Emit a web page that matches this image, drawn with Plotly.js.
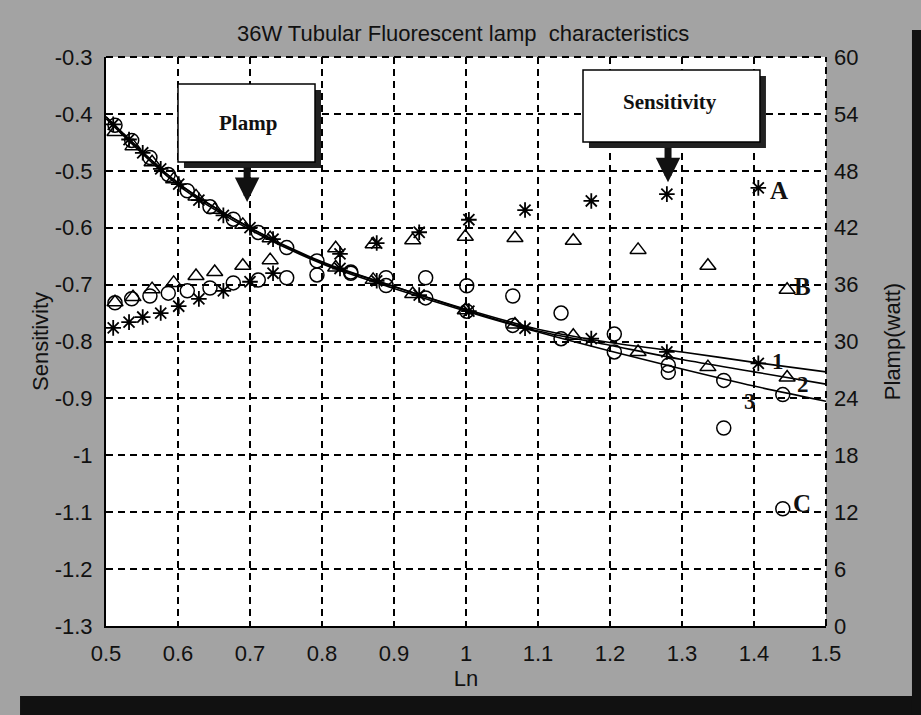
<!DOCTYPE html>
<html>
<head>
<meta charset="utf-8">
<script src="https://cdn.plot.ly/plotly-3.0.1.min.js"></script>
<style>html,body{margin:0;padding:0;background:#a3a3a3;}#chart{width:921px;height:715px;}</style>
</head>
<body>
<div id="chart"></div>
<script>
// ---- Sensitivity data (left axis) ----
const lnA = [0.510,0.532,0.551,0.576,0.601,0.629,0.663,0.700,0.732,0.825,0.876,0.935,1.004,1.082,1.174,1.279,1.406];
const sensA = [-0.776,-0.766,-0.757,-0.750,-0.738,-0.725,-0.711,-0.695,-0.680,-0.646,-0.627,-0.608,-0.586,-0.569,-0.553,-0.541,-0.530];

const lnB = [0.5125,0.5375,0.564,0.594,0.625,0.651,0.690,0.728,0.819,0.871,0.926,0.999,1.068,1.149,1.239,1.336,1.446];
const sensB = [-0.731,-0.722,-0.708,-0.697,-0.685,-0.678,-0.667,-0.657,-0.636,-0.629,-0.622,-0.616,-0.618,-0.623,-0.639,-0.667,-0.709];

const lnC = [0.5125,0.5357,0.561,0.5865,0.6129,0.6444,0.6768,0.7115,0.751,0.793,0.840,0.889,0.944,1.001,1.065,1.132,1.206,1.281,1.358,1.440];
const sensC = [-0.732,-0.725,-0.720,-0.715,-0.711,-0.706,-0.697,-0.692,-0.688,-0.683,-0.678,-0.688,-0.688,-0.702,-0.720,-0.750,-0.787,-0.854,-0.952,-1.094];

// ---- Plamp data (right axis, watt) ----
const plamp1 = [52.9,51.3,49.9,48.2,46.6,44.9,43.3,42.0,40.8,37.7,36.4,34.9,33.2,31.4,30.3,28.9,27.7];
const plamp2 = [52.1,50.6,48.9,47.1,45.3,43.9,42.3,40.9,37.8,36.5,35.0,33.3,31.8,30.6,28.9,27.3,26.2];
const plamp3 = [52.8,51.2,49.4,47.6,45.9,44.2,42.9,41.5,39.9,38.5,37.2,35.9,34.6,33.2,31.7,30.3,28.9,27.5,25.9,24.4];

// fitted Plamp curves 1,2,3
const lnFit = [0.5,0.6,0.7,0.8,0.9,1.0,1.1,1.2,1.3,1.4,1.5];
const fit1 = [53.7,46.7,42.0,38.4,35.8,33.4,31.3,29.9,28.9,27.8,26.8];
const fit2 = [53.7,46.7,42.0,38.3,35.8,33.3,31.1,29.6,28.1,26.8,25.5];
const fit3 = [53.5,46.5,41.8,38.2,35.6,33.2,31.0,29.0,27.1,25.3,23.7];

// tick labels
const xTicks = [0.5,0.6,0.7,0.8,0.9,1.0,1.1,1.2,1.3,1.4,1.5];
const xTickText = ['0.5','0.6','0.7','0.8','0.9','1','1.1','1.2','1.3','1.4','1.5'];
const yTicks = [-1.3,-1.2,-1.1,-1.0,-0.9,-0.8,-0.7,-0.6,-0.5,-0.4,-0.3];
const yTickText = ['-1.3','-1.2','-1.1','-1','-0.9','-0.8','-0.7','-0.6','-0.5','-0.4','-0.3'];
const y2Ticks = [0,6,12,18,24,30,36,42,48,54,60];

const FONT = 'Liberation Sans, Arial, sans-serif';
const SERIF = 'Liberation Serif, Times New Roman, serif';

function mk(symbol, size, w) {
  return {symbol: symbol, size: size, color: '#000', line: {color: '#000', width: w || 1.5}};
}

const traces = [
  {x: lnFit, y: fit1, yaxis: 'y2', mode: 'lines', line: {color: '#000', width: 1.6, shape: 'spline', smoothing: 0.8}},
  {x: lnFit, y: fit2, yaxis: 'y2', mode: 'lines', line: {color: '#000', width: 1.6, shape: 'spline', smoothing: 0.8}},
  {x: lnFit, y: fit3, yaxis: 'y2', mode: 'lines', line: {color: '#000', width: 1.6, shape: 'spline', smoothing: 0.8}},
  {x: lnA, y: plamp1, yaxis: 'y2', mode: 'markers', marker: mk('asterisk-open', 13, 1.8)},
  {x: lnB, y: plamp2, yaxis: 'y2', mode: 'markers', marker: mk('triangle-up-open', 14)},
  {x: lnC, y: plamp3, yaxis: 'y2', mode: 'markers', marker: mk('circle-open', 14)},
  {x: lnA, y: sensA, yaxis: 'y', mode: 'markers', marker: mk('asterisk-open', 13, 1.8)},
  {x: lnB, y: sensB, yaxis: 'y', mode: 'markers', marker: mk('triangle-up-open', 14)},
  {x: lnC, y: sensC, yaxis: 'y', mode: 'markers', marker: mk('circle-open', 14)}
];

const gridDash = '7px,5px';
const layout = {
  width: 921, height: 715,
  margin: {l: 106, r: 95, t: 57, b: 89, pad: 0},
  paper_bgcolor: '#a3a3a3',
  plot_bgcolor: '#ffffff',
  showlegend: false,
  font: {family: FONT, size: 22, color: '#111'},
  title: {text: '36W Tubular Fluorescent lamp  characteristics', x: 0.496, xref: 'paper', xanchor: 'center',
          y: 1 - 33/715, yref: 'container', yanchor: 'middle', font: {family: FONT, size: 22, color: '#111'}},
  xaxis: {range: [0.5, 1.5], tickvals: xTicks, ticktext: xTickText, ticks: '', ticklabelstandoff: 7,
          showgrid: true, gridcolor: '#000', gridwidth: 2, griddash: gridDash,
          showline: true, linecolor: '#000', linewidth: 2, zeroline: false,
          title: {text: 'Ln', standoff: 2, font: {family: FONT, size: 22}}},
  yaxis: {range: [-1.3, -0.3], tickvals: yTicks, ticktext: yTickText, ticks: '', ticklabelstandoff: 7,
          showgrid: true, gridcolor: '#000', gridwidth: 2, griddash: gridDash,
          showline: true, linecolor: '#000', linewidth: 2, zeroline: false,
          title: {text: 'Sensitivity', standoff: 0, font: {family: FONT, size: 22}}},
  yaxis2: {range: [0, 60], tickvals: y2Ticks, overlaying: 'y', side: 'right', ticks: '', ticklabelstandoff: 7,
           showgrid: false, zeroline: false, showline: false,
           title: {text: 'Plamp(watt)', standoff: 27, font: {family: FONT, size: 22}}},
  shapes: [
    // dashed top & right border
    {type: 'line', xref: 'paper', yref: 'paper', x0: 0, x1: 1, y0: 1, y1: 1, line: {color: '#000', width: 2, dash: gridDash}},
    {type: 'line', xref: 'paper', yref: 'paper', x0: 1, x1: 1, y0: 0, y1: 1, line: {color: '#000', width: 2, dash: gridDash}},
    // dark scan borders
    {type: 'rect', xref: 'paper', yref: 'paper', x0: -0.1194, x1: 1.14, y0: -0.17, y1: -0.1230, fillcolor: '#111', line: {width: 0}},
    {type: 'rect', xref: 'paper', yref: 'paper', x0: 1.1194, x1: 1.14, y0: -0.17, y1: 1.0475, fillcolor: '#111', line: {width: 0}},
    // Plamp box with shadow
    {type: 'rect', xref: 'paper', yref: 'paper', x0: 0.1083, x1: 0.2986, y0: 0.805, y1: 0.942, fillcolor: '#222', line: {width: 0}},
    {type: 'rect', xref: 'paper', yref: 'paper', x0: 0.1, x1: 0.2903, y0: 0.8155, y1: 0.9526, fillcolor: '#fff', line: {color: '#000', width: 1.5}},
    // Sensitivity box with shadow
    {type: 'rect', xref: 'paper', yref: 'paper', x0: 0.6708, x1: 0.9166, y0: 0.8401, y1: 0.9667, fillcolor: '#222', line: {width: 0}},
    {type: 'rect', xref: 'paper', yref: 'paper', x0: 0.6625, x1: 0.9083, y0: 0.8506, y1: 0.9772, fillcolor: '#fff', line: {color: '#000', width: 1.5}}
  ],
  annotations: [
    {xref: 'paper', yref: 'paper', x: 0.197, y: 0.884, xanchor: 'center', yanchor: 'middle', text: '<b>Plamp</b>', showarrow: false, font: {family: SERIF, size: 21, color: '#111'}},
    {xref: 'paper', yref: 'paper', x: 0.7833, y: 0.921, xanchor: 'center', yanchor: 'middle', text: '<b>Sensitivity</b>', showarrow: false, font: {family: SERIF, size: 21, color: '#111'}},
    {xref: 'x', yref: 'y', x: 0.696, y: -0.555, ax: 0, ay: -36, text: '', showarrow: true, arrowhead: 2, arrowsize: 0.7, arrowwidth: 7, arrowcolor: '#111'},
    {xref: 'x', yref: 'y', x: 1.2806, y: -0.52, ax: 0, ay: -36, text: '', showarrow: true, arrowhead: 2, arrowsize: 0.7, arrowwidth: 7, arrowcolor: '#111'},
    {xref: 'x', yref: 'y', x: 1.435, y: -0.534, xanchor: 'center', yanchor: 'middle', text: '<b>A</b>', showarrow: false, font: {family: SERIF, size: 25, color: '#111'}},
    {xref: 'x', yref: 'y', x: 1.468, y: -0.704, xanchor: 'center', yanchor: 'middle', text: '<b>B</b>', showarrow: false, font: {family: SERIF, size: 25, color: '#111'}},
    {xref: 'x', yref: 'y', x: 1.467, y: -1.084, xanchor: 'center', yanchor: 'middle', text: '<b>C</b>', showarrow: false, font: {family: SERIF, size: 25, color: '#111'}},
    {xref: 'x', yref: 'y', x: 1.433, y: -0.836, xanchor: 'center', yanchor: 'middle', text: '<b>1</b>', showarrow: false, font: {family: SERIF, size: 23, color: '#111'}},
    {xref: 'x', yref: 'y', x: 1.468, y: -0.876, xanchor: 'center', yanchor: 'middle', text: '<b>2</b>', showarrow: false, font: {family: SERIF, size: 23, color: '#111'}},
    {xref: 'x', yref: 'y', x: 1.394, y: -0.906, xanchor: 'center', yanchor: 'middle', text: '<b>3</b>', showarrow: false, font: {family: SERIF, size: 23, color: '#111'}}
  ]
};

Plotly.newPlot('chart', traces, layout, {displayModeBar: false, staticPlot: true});
</script>
</body>
</html>
